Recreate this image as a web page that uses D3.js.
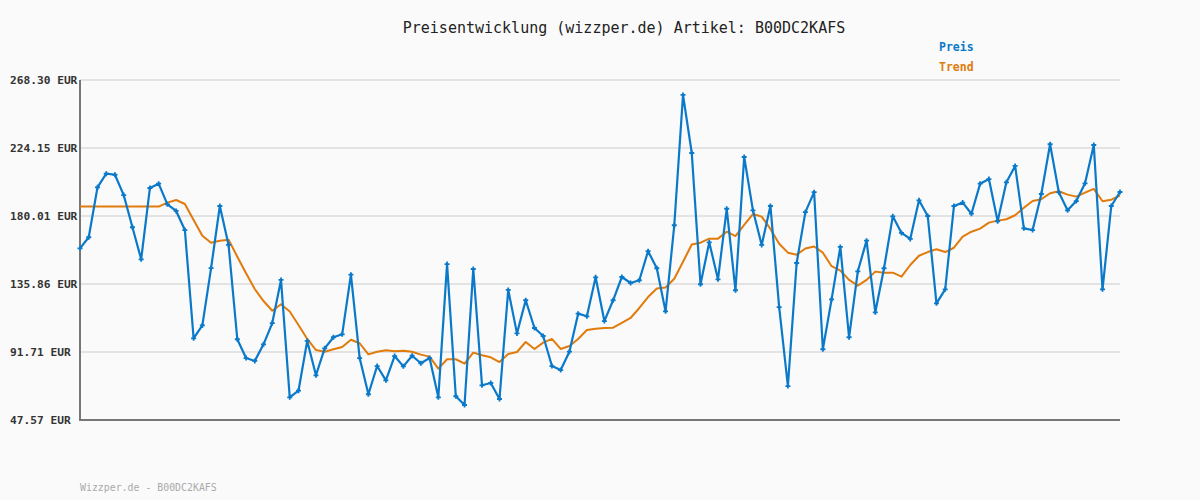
<!DOCTYPE html>
<html><head><meta charset="utf-8">
<script src="https://cdn.jsdelivr.net/npm/d3@7"></script>
<style>
html,body{margin:0;padding:0;background:#fafafa;}
svg{display:block;}
</style></head>
<body>
<svg id="chart" width="1200" height="500"></svg>
<script>
const title = "Preisentwicklung (wizzper.de) Artikel: B00DC2KAFS";
const footer = "Wizzper.de - B00DC2KAFS";
const seriesNames = ["Preis", "Trend"];
const tickValues = [47.57, 91.71, 135.86, 180.01, 224.15, 268.30];
const tickLabels = ["47.57 EUR", "91.71 EUR", "135.86 EUR", "180.01 EUR", "224.15 EUR", "268.30 EUR"];

const preis = [
 159.0,166.2,198.6,207.5,206.8,193.6,172.7,151.9,198.2,201.0,
 187.6,183.3,170.9,100.6,109.0,146.2,186.5,161.2,100.0,87.8,
 85.9,96.7,110.5,138.5,62.3,66.6,98.9,76.6,94.1,101.3,
 103.2,141.9,87.8,64.3,82.6,73.3,89.1,82.4,89.3,84.4,
 87.8,62.3,148.8,63.0,57.3,145.6,70.1,71.6,61.2,132.0,
 103.8,125.3,107.3,102.1,82.6,80.0,91.9,116.6,114.9,140.2,
 111.8,125.3,140.4,136.5,138.3,157.2,146.1,118.1,174.0,258.6,
 220.9,135.7,162.9,138.9,184.7,131.8,218.3,183.7,161.2,186.5,
 120.9,69.6,149.5,182.5,195.5,93.5,125.9,159.9,101.3,144.1,
 164.0,117.5,146.1,179.8,169.0,165.1,190.2,180.0,123.3,132.4,
 186.5,188.7,181.5,201.0,204.0,176.6,201.9,212.5,172.0,170.9,
 194.3,226.6,195.4,183.7,189.7,201.2,226.1,132.4,186.5,195.6
];
const trend = [
 186.1,186.1,186.1,186.1,186.1,186.1,186.1,186.1,186.1,186.1,
 188.7,190.4,187.8,177.4,167.2,162.7,164.0,164.6,153.6,142.8,
 132.6,124.8,118.5,122.7,118.0,109.2,100.2,93.0,91.9,93.5,
 95.0,99.7,97.4,90.2,91.9,92.8,92.2,92.6,91.9,90.0,
 88.7,80.9,87.0,87.0,84.1,91.3,89.6,88.3,85.2,90.4,
 91.7,98.2,93.7,97.8,100.2,93.7,95.6,100.2,106.0,106.8,
 107.3,107.5,110.7,113.8,120.3,127.4,132.9,133.6,139.3,150.3,
 161.5,162.7,165.3,165.3,169.8,167.0,174.2,181.3,179.6,171.6,
 162.0,156.2,154.9,158.9,160.2,156.2,147.4,144.6,138.5,134.8,
 138.5,143.9,143.2,143.2,140.6,148.2,154.2,156.6,158.4,156.6,
 159.4,166.6,169.8,171.8,175.7,177.0,177.9,180.5,185.4,189.7,
 190.9,194.8,196.1,193.9,192.6,195.2,197.6,189.6,190.6,193.2
];

(function () {
const colors = {preis: "#0a79c9", trend: "#e07b0c"};
const svg = d3.select("#chart");
const mLeft = 80, mRight = 1120, mTop = 80, mBottom = 420;

const x = d3.scaleLinear().domain([0, preis.length - 1]).range([mLeft, mRight]);
const y = d3.scaleLinear().domain([tickValues[0], tickValues[tickValues.length - 1]]).range([mBottom, mTop]);

svg.append("rect").attr("width", 1200).attr("height", 500).attr("fill", "#fafafa");

// grid
svg.append("g").selectAll("line").data(tickValues.slice(1)).join("line")
  .attr("x1", mLeft).attr("x2", mRight)
  .attr("y1", d => y(d)).attr("y2", d => y(d))
  .attr("stroke", "#e3e3e3").attr("stroke-width", 2);

// y labels
svg.append("g").selectAll("text").data(tickValues).join("text")
  .attr("x", 10).attr("y", d => y(d) + 4)
  .attr("font-family", "DejaVu Sans Mono, monospace").attr("font-size", "11.2px")
  .attr("font-weight", "bold").attr("fill", "#333")
  .text((d, i) => tickLabels[i]);

// axes
svg.append("line").attr("x1", mLeft).attr("x2", mLeft).attr("y1", mTop).attr("y2", mBottom + 1)
  .attr("stroke", "#777").attr("stroke-width", 2);
svg.append("line").attr("x1", mLeft - 1).attr("x2", mRight).attr("y1", mBottom).attr("y2", mBottom)
  .attr("stroke", "#777").attr("stroke-width", 2);

const line = d3.line().x((d, i) => x(i)).y(d => y(d));

svg.append("path").datum(trend).attr("d", line)
  .attr("fill", "none").attr("stroke", colors.trend).attr("stroke-width", 2).attr("stroke-linejoin", "round");
svg.append("path").datum(preis).attr("d", line)
  .attr("fill", "none").attr("stroke", colors.preis).attr("stroke-width", 2.2).attr("stroke-linejoin", "round");

// markers
svg.append("g").selectAll("path").data(preis).join("path")
  .attr("d", (d, i) => {
    const cx = x(i), cy = y(d);
    return `M${cx-2.5},${cy}L${cx+2.5},${cy}M${cx},${cy-2.5}L${cx},${cy+2.5}`;
  })
  .attr("stroke", colors.preis).attr("stroke-width", 1.8);

// title
svg.append("text").attr("x", 624).attr("y", 33).attr("text-anchor", "middle")
  .attr("font-family", "DejaVu Sans Mono, monospace").attr("font-size", "15px")
  .attr("fill", "#222").text(title);

// legend
svg.append("text").attr("x", 939).attr("y", 51)
  .attr("font-family", "DejaVu Sans Mono, monospace").attr("font-size", "11.5px").attr("font-weight", "bold")
  .attr("fill", colors.preis).text(seriesNames[0]);
svg.append("text").attr("x", 939).attr("y", 71)
  .attr("font-family", "DejaVu Sans Mono, monospace").attr("font-size", "11.5px").attr("font-weight", "bold")
  .attr("fill", colors.trend).text(seriesNames[1]);

// footer
svg.append("text").attr("x", 80).attr("y", 491)
  .attr("font-family", "DejaVu Sans Mono, monospace").attr("font-size", "9.9px")
  .attr("fill", "#aaa").text(footer);
})();
</script>
</body></html>
